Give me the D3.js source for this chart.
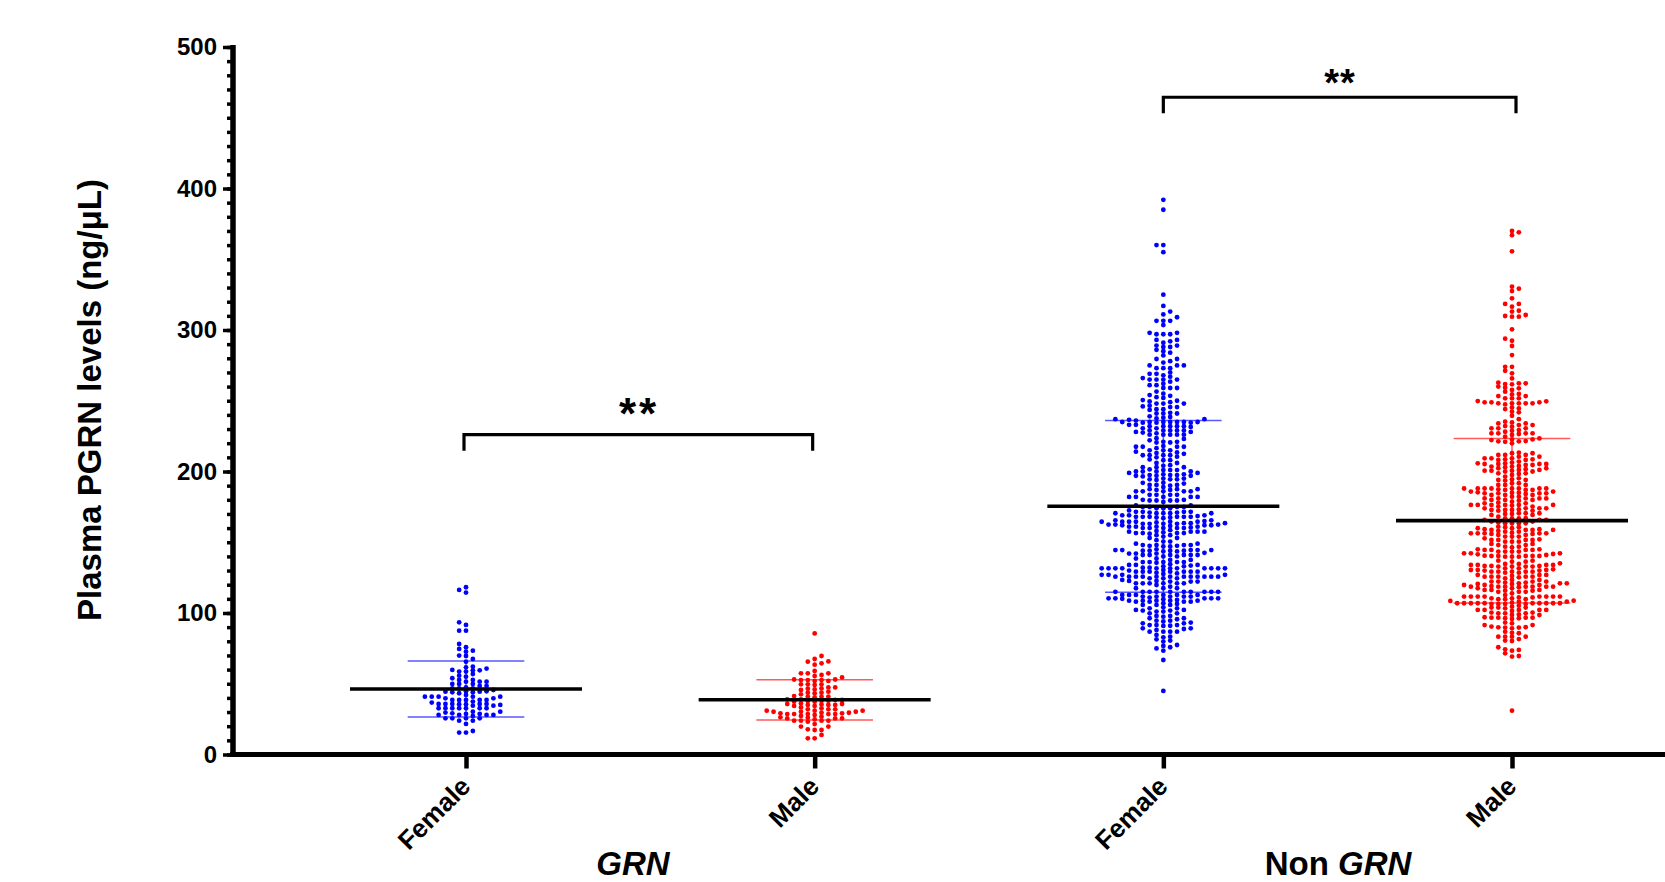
<!DOCTYPE html>
<html>
<head>
<meta charset="utf-8">
<script src="https://cdnjs.cloudflare.com/ajax/libs/d3/7.8.5/d3.min.js"></script>
<style>
  html, body { margin: 0; padding: 0; background: #fff; }
  text { font-family: "Liberation Sans", Arial, sans-serif; font-weight: bold; fill: #000; }
</style>
</head>
<body>
<svg id="chart" width="1665" height="882"></svg>
<script>
// values (ng/uL), one list per group
const grnFemale = [118.2,116.3,114.4,91.6,78.1,75.8,72.7,69.9,65.6,58.6,55.7,52.7,49.9,43.3,40.9,38.5,35.7,32.7,29.1,25.6,21.6,16.6,
  93.4,74.6,69.6,62.1,59.8,56.9,51.5,46.8,44.4,40.9,38.5,35,30.3,27.9,23.9,15.5,87.5,87.5,
  73.4,67.5,61.6,58.6,55,49.9,46.8,42.1,39.7,37.4,34.5,29.6,27.2,23.9,15.5,
  59.5,51.5,46.8,44.4,39.7,35.5,30.3,25.6,59.5,53.9,48.4,44,40.9,38.5,35.7,32.7,28,
  60.7,51.5,48.4,45.6,40.9,38.5,35.5,32.7,28.7,25.6,52.7,49.9,47.5,44,40.9,38.5,35.7,32.7,28,
  44.7,36.7,32.7,28.7,25.6,44.7,35.7,32.7,28,35.7,32.7,34.5];

const grnMale = [85.6,67.5,64.4,57.4,54.5,52,49.1,46,37.8,35,31.9,28.6,25.5,23.2,17.8,13.8,
  63.5,55.5,52.6,49.6,46.7,43.7,40.8,38,35,31.9,29.1,26.3,23.9,21.5,17.3,11.4,
  69.6,65.8,59,56.2,53,47.4,44.4,40.8,38,35,31.9,29.1,26,17.3,11.4,
  57.4,53,47.4,43.7,39,36.1,33.3,30.2,25.5,19.7,65.6,57.4,52.6,49.6,43.2,40.4,37.3,34.3,31,27.9,23.9,19.7,
  52,45.6,37.3,34.3,31,28.6,25.5,52.6,49.6,46.5,42.5,39,35.4,30.2,26.7,23.9,
  40.8,38.5,35.7,32.6,29.5,24.8,41.3,38.5,35.7,30.2,27.2,23.9,28.6,31,28.6,28.6,29.5];

const nonGrnFemale = [392,385,360,360,355,325,317,313,311,309,306.5,306.5,306.5,303.5,297,298,297,297,298,
  289,265,293,291,288,285,277,275,273,269,267,282,278,275,273,270,265,292,288,284,279.5,273,269,265,293,289,286,279.5,275,265,268,266,
  163,162,162.5,231.5,171,168,165,162.5,144,234.5,229,197,171,168.5,164.5,162,157.5,142,
  235,232,228,201,198,195,187.5,182,174,169,163,160,156,149,144,141,
  252,249,238,235,232,228,213,201.5,199,194.5,187.5,182,179.5,175,171.5,167.5,163.5,160,157,147.5,144.5,142,138.5,135.5,
  246,241,238.5,235,232,227.5,220.5,217.5,215,211.5,204,201,197.5,192,186,183.5,179.5,175,172.5,169,163,155,147.5,144,141,136,
  263.5,261,259,256.5,245.5,241,237,234.5,232,226,222,216.5,213.5,210,206,203,200,195,190.5,183.5,179.5,174,170.5,167.5,161,157.5,154,150.5,147,144,141,136,
  255,252.5,249.5,246.5,243.5,239,235,233,229,227,223.5,221,217.5,215,211.5,208,200,197,194,191.5,186,182,178.5,176,170.5,168,164.5,160,156.5,153,148,145,142,137.5,
  262,259,253.5,248,245.5,241.5,235,230.5,226,220.5,211.5,208.5,206,203,200,196.5,192,189,186,182,176,174,170.5,168,164.5,161.5,158.5,155,151.5,148,144.5,141,138.5,
  261,259,254,248,244,241,237.5,235,230.5,226,223,217.5,215,211.5,208,203,197.5,194.5,190.5,187,183.5,179.5,175,171.5,168,164.5,161,157.5,153,148,144.5,141,136,
  250,244,237,235,229,226,221,217.5,214,210.5,200,198,190.5,186,182,175,168,164.5,161,156.5,148,144.5,140,136,
  250.5,248,236,233,229,218,212.5,204.5,201,197.5,190,186,180,171.5,168,164.5,161,157.5,150.5,147,143.5,141,137.5,
  236.5,232,226,199,194.5,187,183.5,180,170.5,167,163.5,160,156.5,149,143.5,140,136,
  234.5,229,197,187.5,171.5,169,165.5,163.5,160,156.5,142.5,170.5,165.5,163,158,144.5,162.5,164,160.5,162,
  133,128.5,134.5,132,125.7,112.8,110.4,133.5,129.2,125.7,122.7,110.9,108,131.6,129.2,125.7,122.7,112.8,108,
  133,130,127,124.5,112.8,110,101,131.6,127.6,125.7,117.5,115,111.6,108.7,91,
  131.6,129.2,125.7,123.4,121,115,111.6,108.7,105.7,102.2,96.3,93.2,86.8,
  131.6,124.5,122.2,119.8,115,111.6,108,105.7,103.3,99.8,92.7,89.2,86.8,77.4,75,
  131.6,127,124.5,121,115,110.4,106.4,103.3,99.8,95.6,91.5,88,82.8,79.8,73.4,
  131.6,129.2,125.7,121,115,110.4,108,101.7,97.4,92.7,89.2,83.3,80.5,75.8,
  131.6,125.7,121,115,110.4,106.9,101,96.3,94,86.8,84.5,81.4,76.7,
  131.6,129.2,125.7,121,118.6,115,112.8,109.2,105.7,102.2,97.9,94.6,91.5,86.8,
  131.6,129.2,125.7,121,117.5,115,111.6,108.7,104,97.9,94.6,91.5,88.7,
  134,130.4,125.7,122.2,117.5,115,111.6,108.7,101.7,90.9,134,131.6,127,122.2,115,112.8,108.7,
  129.2,125.7,112.8,109.7,134,131.6,128,125.7,110.4,132,127,66.8,44.9];

const nonGrnMale = [370,369,367,355.6,327.5,322.4,318.4,300.5,288.7,282.3,269.4,265.8,262.3,254.5,251.7,248.2,244.1,237,231.7,228.1,224.6,221,
  330.6,318.4,271.2,262.8,260,256.4,251.7,248.2,244.6,241.8,234.7,230.5,226.5,222.7,
  329.2,316.5,257.6,253.3,248.2,245.3,242.3,239.4,235.2,232.8,221.5,313,309.4,292.4,274,313.6,310.6,293.9,274,309.4,309.9,
  261.6,258.8,253.3,249.8,234,228.8,225.8,222.2,262.3,259.2,254.8,251.7,248.2,232.1,227,221.3,
  247.4,234,230.5,227,223.4,219.9,248.9,230.5,227,222.7,249.6,261.8,248.2,232.8,227,221.3,248.9,229.3,248.9,
  111.6,106.4,120.5,109.7,107.3,158.7,155.9,142.2,139.8,134,130.9,118.6,109.7,106.4,
  188,185.8,175.2,159.2,156.3,141.5,133.2,130,124.5,121.5,118.6,108,103.8,100.3,96.7,
  203.9,200.6,185.8,183.4,175.2,172.3,163.4,156.3,144.6,142.2,134.7,131.6,128.5,126.2,122.2,118.6,115.8,110.4,106.9,103.8,101.4,
  208.2,205.3,200.6,188,185,182.2,178.7,176.4,172.8,170,164.6,157.5,154,150.4,146.4,143.4,140.3,137,134.7,131.6,128.5,125.7,118.2,115,111.6,108.5,105.2,102.2,99.8,97,91.5,
  213.3,210.5,205.3,200,191.7,188,185,182.2,179.4,176.4,172.8,169.3,165.8,158.7,155.2,151.6,148.8,144.6,140.3,129.2,125.7,122.2,118.6,115,111.6,108,104.5,100.3,96.7,89.7,
  209.3,205.3,201.6,198.3,194,190.5,187,183.4,179.9,176.4,168.1,161,156.8,151.6,148,144.6,133.2,129.2,125.2,121,117.5,113.9,110.4,106.9,103.3,99.8,96.3,92.7,89.2,85.7,81.6,73.9,
  211.7,208.6,204.6,201.1,197.6,194.5,187.4,184.1,181,177.5,173.3,170,166.9,163.9,160.6,156.3,152.1,146.9,143.4,140.3,137,133.2,129.2,121.5,118.6,115.8,108.7,99.8,96.7,89.7,83.3,74.3,71.5,
  212.9,209.3,206.3,203.5,200,196.4,193.6,190.5,187,183.4,179.9,176.4,174,170.5,167,163.4,160.6,157.5,154,150.4,146.9,143.4,139.8,136.3,132.8,129.2,125.7,121,117.5,111.6,106.9,96.3,93.2,89.9,83.3,80.5,69.2,31,
  211.7,208.6,205.3,202.3,198.7,195.2,191.7,188,184.6,181,177.5,174,170.5,166.9,163.4,159.9,155.2,151.6,148,143.4,139.8,135.1,130.4,126.9,122.2,118.6,111.6,106.9,95.8,86,83.3,75.8,69.6,
  210.5,207,203.5,200.6,194,190.5,187,179.9,176.4,172.3,169.3,164.6,159.2,155.9,152.8,148.8,145,141,136.3,132.8,125.7,121,116.3,111.6,106.4,102.2,99,90,86.8,83.3,80.2,73.4,
  212.9,209.3,205.8,202.3,198.7,188,184.6,181,178,174,166.9,159.9,156.3,151.6,140.3,134,130.4,126.9,123.4,119.8,116.3,112.7,106.9,102.2,98.6,90.4,
  211.7,208.2,204.6,201.1,188,184.6,181,174,170.5,165.8,163.4,158.7,154,150.4,145,142.2,134,129.2,125.7,122.2,118.6,115,111.6,106.9,102.2,91.5,
  205.8,203,188,184.6,181,176.4,172.8,165.8,158.7,144.6,141.7,134,130.4,126.9,123.4,119.8,116.3,111.6,106.9,102.2,98.6,
  188,185.3,175.9,156.3,140.3,132.8,130,119.8,109.7,106.9,103.8,96.7,158,140.5,132.8,119,111,106.9,120.5,106.4,111,106.9];

const categories = ["GRN Female", "GRN Male", "Non GRN Female", "Non GRN Male"];
const tickNames = ["Female", "Male", "Female", "Male"];
const groupValues = [grnFemale, grnMale, nonGrnFemale, nonGrnMale];
const groupMeans = [46.3, 38.7, 175.4, 165.3];
const groupUpper = [66, 52.9, 236, 223.4];
const groupLower = [26.5, 24.4, 114.6, 107];
const groupColours = ["#0000ff", "#ff0000", "#0000ff", "#ff0000"];
const yTicks = [0, 100, 200, 300, 400, 500];
const yMinorTicks = d3.range(0, 501, 10);
const bracketPairs = [["GRN Female", "GRN Male"], ["Non GRN Female", "Non GRN Male"]];
const bracketLevels = [226, 464.5];

const svg = d3.select("#chart");
const x = d3.scalePoint().domain(categories).range([466, 1512]);
const y = d3.scaleLinear().domain([0, 500]).range([754.5, 47]);

const pitch = 6.85, minGap = 3.6, maxCol = 9, meanHalf = 116, sdHalf = 58.3;

// simple beeswarm: low to high, each dot takes the nearest column that has room,
// if none has room inside maxCol it goes in the one with the most
function swarm(values) {
  const last = new Map();
  let side = 1;
  return values.slice().sort(d3.ascending).map(v => {
    const py = y(v);
    let col = null, best = 0, bestRoom = -1;
    for (let k = 0; k <= maxCol && col === null; k++) {
      for (const c of [k * side, -k * side]) {
        const room = last.has(c) ? last.get(c) - py : Infinity;
        if (room >= minGap) { col = c; break; }
        if (room > bestRoom) { bestRoom = room; best = c; }
      }
    }
    if (col === null) col = best;
    last.set(col, py);
    side = -side;
    return { v: v, col: col };
  });
}

// sd bars
const sdG = svg.append("g");
categories.forEach((c, i) => {
  const g = sdG.append("g")
    .attr("stroke", groupColours[i])
    .attr("stroke-opacity", 0.65)
    .attr("stroke-width", 1.5);
  [groupUpper[i], groupLower[i]].forEach(v => {
    g.append("line")
      .attr("x1", x(c) - sdHalf).attr("x2", x(c) + sdHalf)
      .attr("y1", y(v)).attr("y2", y(v));
  });
  g.append("line")
    .attr("x1", x(c)).attr("x2", x(c))
    .attr("y1", y(groupUpper[i])).attr("y2", y(groupLower[i]));
});

// dots
categories.forEach((c, i) => {
  svg.append("g")
    .attr("fill", groupColours[i])
    .selectAll("circle")
    .data(swarm(groupValues[i]))
    .join("circle")
    .attr("cx", d => x(c) + d.col * pitch)
    .attr("cy", d => y(d.v))
    .attr("r", 2.4);
});

// mean lines
svg.append("g")
  .selectAll("line")
  .data(categories)
  .join("line")
  .attr("x1", d => x(d) - meanHalf)
  .attr("x2", d => x(d) + meanHalf)
  .attr("y1", (d, i) => y(groupMeans[i]))
  .attr("y2", (d, i) => y(groupMeans[i]))
  .attr("stroke", "#000")
  .attr("stroke-width", 3.6);

// y axis
svg.append("g")
  .attr("transform", "translate(233,0)")
  .call(d3.axisLeft(y).tickValues(yMinorTicks).tickSize(6).tickFormat(""))
  .call(g => g.select(".domain").remove())
  .call(g => g.selectAll("line").attr("stroke-width", 3.5));

const yAxis = svg.append("g")
  .attr("transform", "translate(233,0)")
  .call(d3.axisLeft(y).tickValues(yTicks).tickSize(10).tickPadding(6).tickFormat(d3.format("d")));
yAxis.select(".domain").remove();
yAxis.selectAll("line").attr("stroke-width", 3.5);
yAxis.selectAll("text").attr("font-size", 24).attr("font-family", null).attr("font-weight", null);

svg.append("line")
  .attr("x1", 233).attr("x2", 233)
  .attr("y1", y(500) - 2).attr("y2", y(0) + 2.5)
  .attr("stroke", "#000").attr("stroke-width", 5.5);

// x axis
const xAxis = svg.append("g")
  .attr("transform", "translate(0," + y(0) + ")")
  .call(d3.axisBottom(x).tickSize(14).tickFormat(""));
xAxis.select(".domain").remove();
xAxis.selectAll("line").attr("stroke-width", 4.5);
svg.append("line")
  .attr("x1", 230).attr("x2", 1665)
  .attr("y1", y(0)).attr("y2", y(0))
  .attr("stroke", "#000").attr("stroke-width", 5);

svg.append("g")
  .selectAll("text")
  .data(categories)
  .join("text")
  .attr("text-anchor", "end")
  .attr("font-size", 26)
  .attr("transform", d => "translate(" + (x(d) + 6) + ",788) rotate(-45)")
  .text((d, i) => tickNames[i]);

// group labels
svg.append("text")
  .attr("x", 633).attr("y", 875)
  .attr("text-anchor", "middle")
  .attr("font-size", 33)
  .attr("font-style", "italic")
  .text("GRN");
const nonGrn = svg.append("text")
  .attr("x", 1338).attr("y", 875)
  .attr("text-anchor", "middle")
  .attr("font-size", 33);
nonGrn.append("tspan").text("Non ");
nonGrn.append("tspan").attr("font-style", "italic").text("GRN");

// axis title
const yTitle = svg.append("text")
  .attr("transform", "translate(101,400) rotate(-90)")
  .attr("text-anchor", "middle")
  .attr("font-size", 33);
yTitle.append("tspan").text("Plasma PGRN levels (ng/μL)");

// significance brackets, the figure's ends sit a little off the group centres
const bracketNudge = [[-2, -2], [0, 4]];
bracketPairs.forEach((p, i) => {
  const yb = y(bracketLevels[i]);
  const x0 = x(p[0]) + bracketNudge[i][0], x1 = x(p[1]) + bracketNudge[i][1];
  svg.append("path")
    .attr("fill", "none")
    .attr("stroke", "#000")
    .attr("stroke-width", 3.2)
    .attr("d", d3.line()([[x0, yb + 16], [x0, yb], [x1, yb], [x1, yb + 16]]));
});
svg.append("text").attr("x", 639).attr("y", 429).attr("text-anchor", "middle").attr("font-size", 44).attr("letter-spacing", 3).text("**");
svg.append("text").attr("x", 1340).attr("y", 96).attr("text-anchor", "middle").attr("font-size", 38).attr("letter-spacing", 1).text("**");
</script>
</body>
</html>
